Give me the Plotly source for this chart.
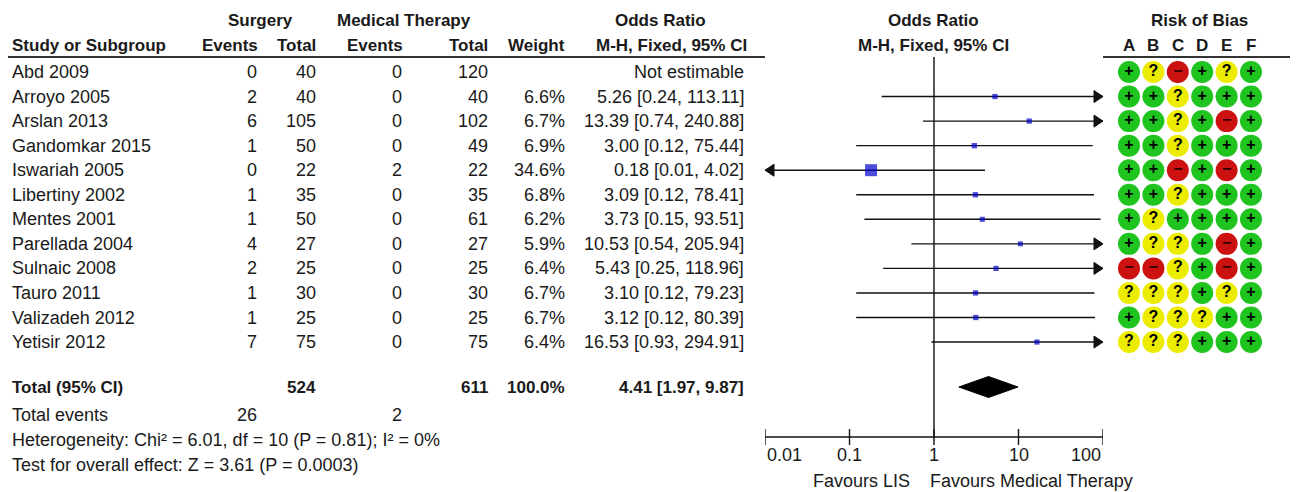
import math
import plotly.graph_objects as go

# ---------------- data ----------------
studies = ["Abd 2009", "Arroyo 2005", "Arslan 2013", "Gandomkar 2015", "Iswariah 2005",
           "Libertiny 2002", "Mentes 2001", "Parellada 2004", "Sulnaic 2008", "Tauro 2011",
           "Valizadeh 2012", "Yetisir 2012"]
surg_events = [0, 2, 6, 1, 0, 1, 1, 4, 2, 1, 1, 7]
surg_total = [40, 40, 105, 50, 22, 35, 50, 27, 25, 30, 25, 75]
med_events = [0, 0, 0, 0, 2, 0, 0, 0, 0, 0, 0, 0]
med_total = [120, 40, 102, 49, 22, 35, 61, 27, 25, 30, 25, 75]
weights = [None, 6.6, 6.7, 6.9, 34.6, 6.8, 6.2, 5.9, 6.4, 6.7, 6.7, 6.4]
or_est = [None, 5.26, 13.39, 3.00, 0.18, 3.09, 3.73, 10.53, 5.43, 3.10, 3.12, 16.53]
or_lo = [None, 0.24, 0.74, 0.12, 0.01, 0.12, 0.15, 0.54, 0.25, 0.12, 0.12, 0.93]
or_hi = [None, 113.11, 240.88, 75.44, 4.02, 78.41, 93.51, 205.94, 118.96, 79.23, 80.39, 294.91]
rob_domains = ["A", "B", "C", "D", "E", "F"]
rob = ["+?-+?+", "++?+++", "++?+-+", "++?+++", "++-+-+", "++?+++",
       "+?++++", "+??+-+", "--?+-+", "???+?+", "+???++", "???+++"]

total_surg = 524
total_med = 611
total_weight = 100.0
events_surg = 26
events_med = 2
pooled_or, pooled_lo, pooled_hi = 4.41, 1.97, 9.87
heterogeneity = "Heterogeneity: Chi² = 6.01, df = 10 (P = 0.81); I² = 0%"
overall = "Test for overall effect: Z = 3.61 (P = 0.0003)"
axis_ticks = [0.01, 0.1, 1, 10, 100]
axis_tick_labels = ["0.01", "0.1", "1", "10", "100"]
favours_left = "Favours LIS"
favours_right = "Favours Medical Therapy"

# ---------------- layout constants ----------------
W, H = 1298, 492
OFF = 8  # page body margin compensation
ROW0_PX, ROW_PX = 72, 24.55
FONT = "Liberation Sans, Arial, sans-serif"
FS = 18
FSB = 17
TXT = "#1a1a1a"
AX_L, AX_R = 765, 1103
DEC_PX = (AX_R - AX_L) / 4.0


def prow(px):
    return (px - ROW0_PX) / ROW_PX


Y_H1, Y_H2, Y_RULE = prow(20), prow(45), prow(57)
Y_TOTAL, Y_EVENTS, Y_HET, Y_TEST = prow(387), prow(415), prow(440), prow(465)
Y_AXIS, Y_TICKLAB, Y_FAV = prow(437), prow(455), prow(481)

fig = go.Figure()
ann = []


def text(x, y, s, anchor="right", bold=False, xref="x"):
    ann.append(dict(x=x, y=y, xref=xref, yref="y", text=("<b>%s</b>" % s) if bold else s,
                    showarrow=False, xanchor=anchor, yanchor="middle",
                    font=dict(family=FONT, size=FSB if bold else FS, color=TXT)))


# column positions (pixels)
C_STUDY, C_SE, C_ST, C_ME, C_MT, C_W, C_OR = 10, 259, 318, 404, 490, 567, 746

# headers
text(260, Y_H1, "Surgery", "center", True)
text(404, Y_H1, "Medical Therapy", "center", True)
text(660, Y_H1, "Odds Ratio", "center", True)
text(933, Y_H1, "Odds Ratio", "center", True)
text(1199, Y_H1, "Risk of Bias", "center", True)
text(C_STUDY, Y_H2, "Study or Subgroup", "left", True)
text(C_SE + 1, Y_H2, "Events", "right", True)
text(C_ST, Y_H2, "Total", "right", True)
text(C_ME + 1, Y_H2, "Events", "right", True)
text(C_MT, Y_H2, "Total", "right", True)
text(C_W, Y_H2, "Weight", "right", True)
text(C_OR + 3, Y_H2, "M-H, Fixed, 95% CI", "right", True)
text(933, Y_H2, "M-H, Fixed, 95% CI", "center", True)

ROB_X0, ROB_DX = 1129, 24.4
for j, d in enumerate(rob_domains):
    text(ROB_X0 + j * ROB_DX, Y_H2, d, "center", True)

# rule
fig.add_trace(go.Scatter(x=[0, W], y=[Y_RULE, Y_RULE], mode="lines",
                         line=dict(color="#333333", width=2), hoverinfo="skip",
                         xaxis="x", yaxis="y"))

# study rows
for i, s in enumerate(studies):
    text(C_STUDY, i, s, "left")
    text(C_SE, i, str(surg_events[i]))
    text(C_ST, i, str(surg_total[i]))
    text(C_ME, i, str(med_events[i]))
    text(C_MT, i, str(med_total[i]))
    if weights[i] is None:
        text(C_OR, i, "Not estimable")
    else:
        text(C_W, i, "%.1f%%" % weights[i])
        text(C_OR, i, "%.2f [%.2f, %.2f]" % (or_est[i], or_lo[i], or_hi[i]))

# totals
text(C_STUDY, Y_TOTAL, "Total (95% CI)", "left", True)
text(C_ST, Y_TOTAL, str(total_surg), "right", True)
text(C_MT, Y_TOTAL, str(total_med), "right", True)
text(C_W, Y_TOTAL, "%.1f%%" % total_weight, "right", True)
text(C_OR, Y_TOTAL, "%.2f [%.2f, %.2f]" % (pooled_or, pooled_lo, pooled_hi), "right", True)
text(C_STUDY, Y_EVENTS, "Total events", "left")
text(C_SE, Y_EVENTS, str(events_surg))
text(C_ME, Y_EVENTS, str(events_med))
text(C_STUDY, Y_HET, heterogeneity, "left")
text(C_STUDY, Y_TEST, overall, "left")

# ---------------- forest plot (log axis x2) ----------------
xmin, xmax = axis_ticks[0], axis_ticks[-1]
ci_x, ci_y = [], []
tri_x, tri_y = [], []
arrow_len = 10 ** (9 / DEC_PX)
arrow_h = 6 / ROW_PX
for i in range(len(studies)):
    if or_est[i] is None:
        continue
    lo = max(or_lo[i], xmin)
    hi = min(or_hi[i], xmax)
    ci_x += [lo, hi, None]
    ci_y += [i, i, None]
    if or_hi[i] > xmax:
        tri_x += [xmax, xmax / arrow_len, xmax / arrow_len, xmax, None]
        tri_y += [i, i - arrow_h, i + arrow_h, i, None]
    if or_lo[i] <= xmin:
        tri_x += [xmin, xmin * arrow_len, xmin * arrow_len, xmin, None]
        tri_y += [i, i - arrow_h, i + arrow_h, i, None]

fig.add_trace(go.Scatter(x=ci_x, y=ci_y, mode="lines", line=dict(color="#111111", width=1.4),
                         xaxis="x2", yaxis="y", hoverinfo="skip"))
fig.add_trace(go.Scatter(x=tri_x, y=tri_y, mode="lines", fill="toself", fillcolor="#111111",
                         line=dict(color="#111111", width=1), xaxis="x2", yaxis="y",
                         hoverinfo="skip"))

# null line
fig.add_trace(go.Scatter(x=[1, 1], y=[Y_RULE, Y_AXIS], mode="lines",
                         line=dict(color="#111111", width=1.4), xaxis="x2", yaxis="y",
                         hoverinfo="skip"))

# squares
sq_x = [or_est[i] for i in range(len(studies)) if or_est[i] is not None]
sq_y = [i for i in range(len(studies)) if or_est[i] is not None]
sq_s = [12 * math.sqrt(weights[i] / 34.6) for i in sq_y]
fig.add_trace(go.Scatter(x=sq_x, y=sq_y, mode="markers", xaxis="x2", yaxis="y",
                         marker=dict(symbol="square", size=sq_s, color="#0000cc",
                                     line=dict(width=0)), hoverinfo="skip"))

# diamond
dh = 10.5 / ROW_PX
fig.add_trace(go.Scatter(x=[pooled_lo, pooled_or, pooled_hi, pooled_or, pooled_lo],
                         y=[Y_TOTAL, Y_TOTAL - dh, Y_TOTAL, Y_TOTAL + dh, Y_TOTAL],
                         mode="lines", fill="toself", fillcolor="#000000",
                         line=dict(color="#000000", width=1), xaxis="x2", yaxis="y",
                         hoverinfo="skip"))

# axis line & ticks
tk = 8 / ROW_PX
ax_x = [xmin, xmax, None]
ax_y = [Y_AXIS, Y_AXIS, None]
for t in axis_ticks:
    ax_x += [t, t, None]
    ax_y += [Y_AXIS - tk, Y_AXIS + tk, None]
fig.add_trace(go.Scatter(x=ax_x, y=ax_y, mode="lines", line=dict(color="#111111", width=1.4),
                         xaxis="x2", yaxis="y", hoverinfo="skip"))
for k, (t, lab) in enumerate(zip(axis_ticks, axis_tick_labels)):
    anc = "left" if k == 0 else ("right" if k == len(axis_ticks) - 1 else "center")
    text(math.log10(t), Y_TICKLAB, lab, anc, xref="x2")
text(912, Y_FAV, favours_left, "right")
text(928, Y_FAV, favours_right, "left")

# ---------------- risk of bias ----------------
col = {"+": "#1fc41f", "?": "#ecec00", "-": "#cc1111"}
sym = {"+": "<b>+</b>", "?": "<b>?</b>", "-": "<b>−</b>"}
symcol = {"+": "#000000", "?": "#000000", "-": "#330000"}
for code in ["+", "?", "-"]:
    xs, ys = [], []
    for i, r in enumerate(rob):
        for j, c in enumerate(r):
            if c == code:
                xs.append(ROB_X0 + j * ROB_DX)
                ys.append(i)
    fig.add_trace(go.Scatter(x=xs, y=ys, mode="markers+text", text=[sym[code]] * len(xs),
                             textposition="middle center",
                             textfont=dict(family=FONT, size=16, color=symcol[code]),
                             marker=dict(symbol="circle", size=22, color=col[code],
                                         line=dict(width=0)),
                             xaxis="x", yaxis="y", hoverinfo="skip"))

fig.update_layout(
    width=W, height=H, margin=dict(l=0, r=0, t=0, b=0),
    paper_bgcolor="white", plot_bgcolor="white", showlegend=False,
    xaxis=dict(range=[OFF, W + OFF], domain=[0, 1], visible=False, fixedrange=True),
    xaxis2=dict(type="log", range=[-2, 2], domain=[(AX_L - OFF) / W, (AX_R - OFF) / W],
                anchor="y", visible=False, fixedrange=True),
    yaxis=dict(range=[prow(H + OFF), prow(OFF)], domain=[0, 1], visible=False,
               fixedrange=True),
    annotations=ann,
)
fig.write_html("out.html")
